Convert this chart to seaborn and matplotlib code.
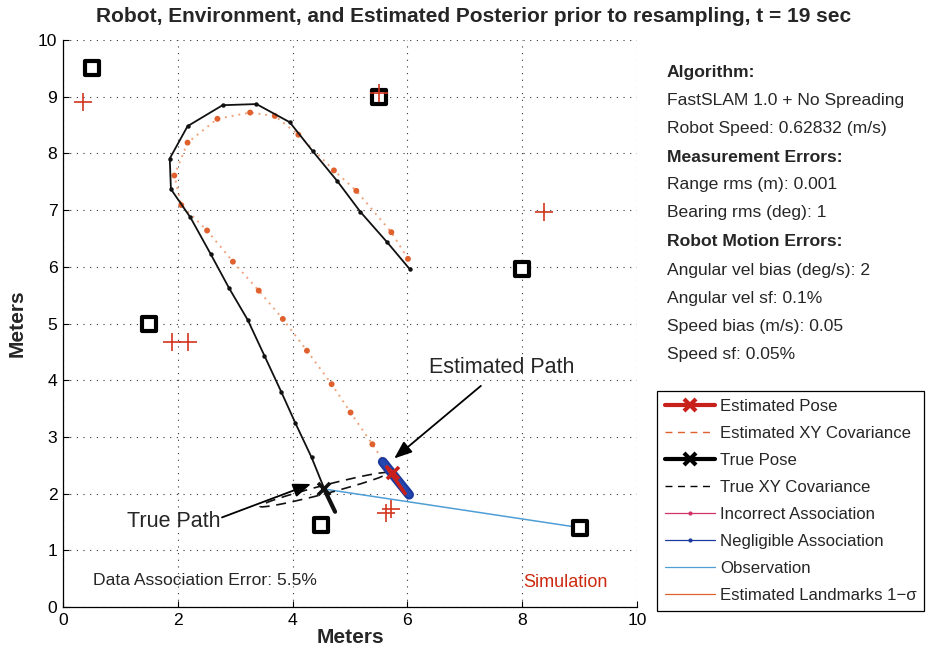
import matplotlib
matplotlib.use("Agg")
import matplotlib.pyplot as plt
import seaborn as sns
import pandas as pd
from matplotlib.patches import Ellipse
from matplotlib.lines import Line2D

# ---------------- data ----------------
true_x = [6.04, 5.65, 5.18, 4.78, 4.35, 3.95, 3.37, 2.78, 2.17, 1.86, 1.88, 2.22, 2.57, 2.89, 3.22, 3.51, 3.80, 4.05, 4.33, 4.55]
true_y = [5.96, 6.43, 6.97, 7.51, 8.04, 8.55, 8.87, 8.85, 8.48, 7.91, 7.37, 6.87, 6.23, 5.63, 5.06, 4.43, 3.80, 3.24, 2.64, 2.09]

est_x = [6.01, 5.72, 5.11, 4.72, 4.10, 3.69, 3.26, 2.69, 2.17, 1.94, 2.06, 2.51, 2.96, 3.41, 3.83, 4.25, 4.68, 5.01, 5.39, 5.58]
est_y = [6.14, 6.61, 7.34, 7.70, 8.33, 8.66, 8.72, 8.61, 8.19, 7.61, 7.09, 6.64, 6.09, 5.58, 5.08, 4.52, 3.93, 3.43, 2.87, 2.58]

landmark_x = [0.5, 5.5, 8.0, 1.5, 4.5, 9.0]
landmark_y = [9.5, 9.0, 5.96, 5.0, 1.45, 1.4]

est_landmark_x = [0.35, 5.51, 8.38, 1.90, 2.18, 5.71, 5.63]
est_landmark_y = [8.90, 9.07, 6.96, 4.67, 4.67, 1.72, 1.65]

true_pose = (4.55, 2.08)
true_heading_end = (4.74, 1.68)
est_pose = (5.75, 2.36)
est_heading = ([5.64, 5.96], [2.47, 2.00])
particle_cloud = ([5.57, 6.03], [2.56, 1.98])
observation_x = [4.55, 9.0]
observation_y = [2.08, 1.4]

true_cov = dict(xy=(4.55, 2.07), width=2.31, height=0.15, angle=14.8)
est_cov = dict(xy=(5.78, 2.30), width=0.35, height=0.06, angle=-55)

x_ticks = [0, 2, 4, 6, 8, 10]
y_ticks = list(range(0, 11))

title = "Robot, Environment, and Estimated Posterior prior to resampling, t = 19 sec"
info_lines = [
    ("Algorithm:", True),
    ("FastSLAM 1.0 + No Spreading", False),
    ("Robot Speed: 0.62832 (m/s)", False),
    ("Measurement Errors:", True),
    ("Range rms (m): 0.001", False),
    ("Bearing rms (deg): 1", False),
    ("Robot Motion Errors:", True),
    ("Angular vel bias (deg/s): 2", False),
    ("Angular vel sf: 0.1%", False),
    ("Speed bias (m/s): 0.05", False),
    ("Speed sf: 0.05%", False),
]
legend_labels = ["Estimated Pose", "Estimated XY Covariance", "True Pose", "True XY Covariance",
                 "Incorrect Association", "Negligible Association", "Observation",
                 "Estimated Landmarks 1\u2212\u03c3"]

# ---------------- style ----------------
sns.set_theme(style="white")
plt.rcParams["font.family"] = ["Liberation Sans", "DejaVu Sans"]
plt.rcParams["axes.unicode_minus"] = True

FS = 12.6

fig = plt.figure(figsize=(9.35, 6.58), dpi=100)
ax = fig.add_axes([63 / 935, 1 - 607 / 658, (637 - 63) / 935, (607 - 40) / 658])

ORANGE = "#e0602e"
ORANGE_L = "#f0a47e"
RED = "#c8201a"
BLUE_D = "#1c3a9e"
BLUE_L = "#4f9ed6"
PINK = "#d4306a"

true_df = pd.DataFrame({"x": true_x, "y": true_y})
est_df = pd.DataFrame({"x": est_x, "y": est_y})
lm_df = pd.DataFrame({"x": landmark_x, "y": landmark_y})
elm_df = pd.DataFrame({"x": est_landmark_x, "y": est_landmark_y})

# estimated path (dotted orange with dots)
sns.lineplot(data=est_df, x="x", y="y", sort=False, ax=ax, color=ORANGE_L,
             linestyle=(0, (1, 2.5)), lw=1.4, zorder=2)
sns.scatterplot(data=est_df, x="x", y="y", ax=ax, color=ORANGE, s=18, edgecolor="none", zorder=3)

# true path
sns.lineplot(data=true_df, x="x", y="y", sort=False, ax=ax, color="#111111", lw=1.3,
             marker="o", markersize=3.2, markeredgewidth=0, zorder=4)

# observation line
ax.plot(observation_x, observation_y, color=BLUE_L, lw=1.1, zorder=3)

# covariance ellipses
ax.add_patch(Ellipse(fill=False, ec="#111111", lw=1.2, ls=(0, (6, 4)), zorder=5, **true_cov))
ax.add_patch(Ellipse(fill=False, ec=ORANGE, lw=1.0, ls=(0, (6, 4)), zorder=5, **est_cov))

# particle cloud
ax.plot(*particle_cloud, color=BLUE_D, lw=7, solid_capstyle="round", zorder=6)
ax.plot(*particle_cloud, color="#2448b0", lw=4, solid_capstyle="round", zorder=6)

# estimated pose
ax.plot(*est_heading, color=RED, lw=2.6, zorder=7)
ax.plot([est_pose[0]], [est_pose[1]], marker="x", ms=9, mew=2.6, color=RED, zorder=7)

# true pose
ax.plot([true_pose[0], true_heading_end[0]], [true_pose[1], true_heading_end[1]], color="#111111", lw=3, zorder=7)
ax.plot([true_pose[0]], [true_pose[1]], marker="x", ms=9, mew=2.6, color="#111111", zorder=7)

# landmarks
sns.scatterplot(data=lm_df, x="x", y="y", ax=ax, marker="s", s=100, facecolor="white",
                edgecolor="black", linewidth=3, zorder=8)
sns.scatterplot(data=elm_df, x="x", y="y", ax=ax, marker="+", s=180, color="#d2361c",
                linewidth=1.2, zorder=9)

# annotations
arrowprops = dict(arrowstyle="-|>,head_length=0.9,head_width=0.35", color="black", lw=1.3,
                  shrinkA=0, shrinkB=0)
ax.text(1.93, 1.51, "True Path", fontsize=15.5, ha="center", va="center", zorder=10)
ax.annotate("", xy=(4.32, 2.17), xytext=(2.77, 1.58), arrowprops=arrowprops, zorder=10)
ax.text(7.65, 4.22, "Estimated Path", fontsize=15.5, ha="center", va="center", zorder=10)
ax.annotate("", xy=(5.77, 2.62), xytext=(7.28, 3.9), arrowprops=arrowprops, zorder=10)

ax.text(0.52, 0.46, "Data Association Error: 5.5%", fontsize=FS, ha="left", va="center")
ax.text(8.02, 0.43, "Simulation", fontsize=13, ha="left", va="center", color="#cc2a10")

# axes
ax.set_xlim(0, 10)
ax.set_ylim(0, 10)
ax.set_xticks(x_ticks)
ax.set_yticks(y_ticks)
ax.set_xlabel("Meters", fontsize=15, fontweight="bold", labelpad=0)
ax.set_ylabel("Meters", fontsize=15, fontweight="bold", labelpad=8)
ax.tick_params(direction="in", length=4, width=0.8, labelsize=FS, colors="black",
               bottom=True, left=True, pad=4)
for s in ["top", "right"]:
    ax.spines[s].set_visible(False)
for s in ["left", "bottom"]:
    ax.spines[s].set_color("black")
    ax.spines[s].set_linewidth(0.9)
ax.grid(True, color="#333333", linestyle=(0, (1, 5)), lw=0.8)
ax.set_axisbelow(True)

fig.text(474 / 935, 1 - 17 / 658, title, ha="center", va="center", fontsize=15, fontweight="bold")

# info panel
y_px = [72, 100, 128, 157, 185, 213, 242, 270, 298, 326, 354]
for (txt, bold), yp in zip(info_lines, y_px):
    fig.text(667 / 935, 1 - yp / 658, txt, ha="left", va="center", fontsize=FS,
             fontweight="bold" if bold else "normal")

# legend
handles = [
    Line2D([], [], color=RED, lw=3, marker="x", ms=8, mew=3),
    Line2D([], [], color=ORANGE, lw=1, ls=(0, (5, 4))),
    Line2D([], [], color="black", lw=3, marker="x", ms=8, mew=3),
    Line2D([], [], color="black", lw=1, ls=(0, (5, 4))),
    Line2D([], [], color=PINK, lw=0.9, marker=".", ms=4),
    Line2D([], [], color=BLUE_D, lw=0.9, marker=".", ms=4),
    Line2D([], [], color=BLUE_L, lw=0.9),
    Line2D([], [], color=ORANGE, lw=0.9),
]
leg = fig.legend(handles, legend_labels, loc="upper left", bbox_to_anchor=(657 / 935, 1 - 391 / 658),
                 fontsize=12.1, frameon=True, fancybox=False, framealpha=1, edgecolor="black",
                 handlelength=3.0, handletextpad=0.3, labelspacing=0.72, borderpad=0.45,
                 borderaxespad=0)
leg.get_frame().set_linewidth(0.9)

fig.savefig("out.png", dpi=100)
